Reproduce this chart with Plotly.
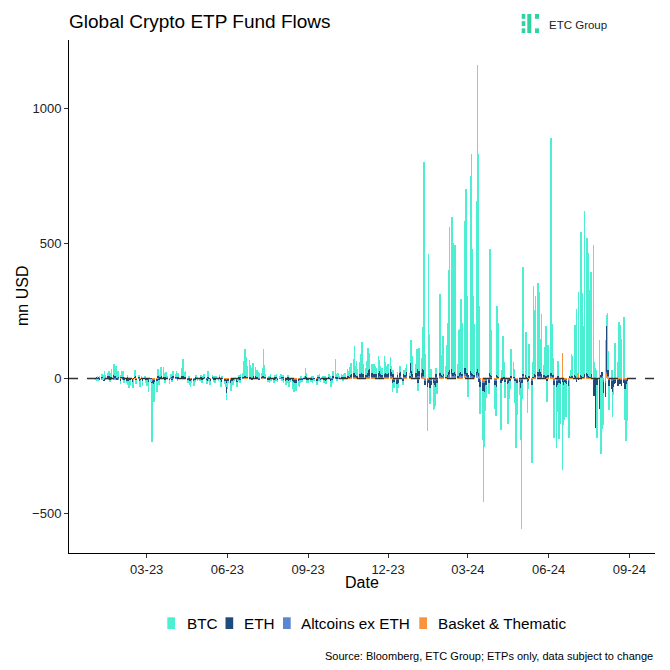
import pandas as pd
import plotly.graph_objects as go

# ---------------- data (mn USD, business days 2023-01-02 .. 2024-08-30) ----------------
categories = ["BTC", "ETH", "Altcoins ex ETH", "Basket & Thematic"]
colors = ["#4DEFD3", "#1F4A7E", "#5B86D1", "#F7953E"]

x_tick_dates = ["2023-03-01", "2023-06-01", "2023-09-01", "2023-12-01",
                "2024-03-01", "2024-06-01", "2024-09-01"]
x_tick_labels = ["03-23", "06-23", "09-23", "12-23", "03-24", "06-24", "09-24"]
y_ticks = [-500, 0, 500, 1000]

btc = [
    # 2023-01
    0, -4, 6, -3, 5, 8, -6, 10, 14, 9, 12, 18, -8, 15, 22, 39, 28, 34, 12, 20, -10, 8,
    # 2023-02
    15, 22, -12, -8, 10, -15, -22, -18, -25, -10, 12, 20, -14, 8, -20, -12, 6, -16, 5, -10,
    # 2023-03
    -20, -15, -35, -10, -218, -30, -65, -47, -40, 25, -20, 10, 33, 28, 15, -12, 20, 8, -15, 5, 12, -8, 18,
    # 2023-04
    12, 20, -8, 15, 0, 30, 58, 25, 18, 22, -10, 8, -15, -20, -12, -18, -8, 10, 6, -5,
    # 2023-05
    -6, 8, -10, 5, 12, -8, -12, 20, -5, -15, 10, -8, 6, -10, 4, -6, 8, -12, -20, 6, -10, -15, -25,
    # 2023-06
    -20, -8, -30, -12, -15, -10, -5, -18, -6, 8, -10, 12, 15, 55, 95, 70, 40, 60, 45, 35, 30, 50,
    # 2023-07
    33, 10, 25, 18, 20, 15, 30, 92, 40, 12, -8, 6, -10, 12, -6, -12, 8, -5, 10, -8, 6,
    # 2023-08
    10, -6, 8, -10, -16, -12, 8, -20, -8, -15, -25, -34, -28, -30, -18, -20, -10, 5, -8, 6, 27, 15, -10,
    # 2023-09
    -12, -8, 6, -10, 5, -6, -15, 8, -5, 10, -8, 6, -10, 4, -12, -8, 12, 6, -20, -10, 18,
    # 2023-10
    60, 10, -8, 15, 6, 12, 8, -6, 10, 15, 25, 20, 12, 30, 40, 55, 95, 35, 50, 25, 45, 70,
    # 2023-11
    105, 50, 38, 25, 42, 80, 32, 60, 30, 15, 38, 20, 25, 62, 33, 20, 12, 25, 68, 33, 15, 30,
    # 2023-12
    35, 45, 25, -34, 15, -25, -30, 10, -20, 20, 25, -15, 15, 10, 20, 28, 0, 10, 85, 55, 15,
    # 2024-01
    0, 35, 75, -30, 85, 55, 38, 145, 771, 92, -163, 447, 165, -60, 35, -100, -90, -70, 25, -40, 293, 96, 72,
    # 2024-02
    85, 140, 38, 112, 185, 376, 530, 561, 479, 425, 463, 235, 46, 158, 160, 265, 190, 545, 458, 665, 285,
    # 2024-03
    -67, 723, 797, 460, 290, 190, 634, 1126, 811, 248, -101, -180, -396, -204, -90, -50, -40, 462, 290, 170, 0,
    # 2024-04
    -90, -110, 255, 172, 198, -171, 30, 148, 55, -60, -100, -147, -60, -30, 100, 55, 30, -80, -229, -120, -50, -190,
    # 2024-05
    -510, -60, 395, 160, 35, -114, -30, 118, -290, 55, 325, 238, 292, 330, 268, 55, 124, 220, 35, 100, 185, -80, 112,
    # 2024-06
    345, 852, 180, 62, -199, -226, -100, 55, -208, -150, -325, -150, -139, -114, -120, -193, -162, 25, 82, 72,
    # 2024-07
    185, 105, 258, 18, 300, 528, 308, 145, 185, 604, 500, 447, 318, 145, 380, 470, 60, 40, 30, -199, 143, -80, -279,
    # 2024-08
    -187, -120, 143, 40, 205, 72, -90, 30, -92, -28, 77, 131, 60, 210, 105, 198, 145, 228, -114, -180, -80, -150,
]

eth = [
    0, 2, -3, 4, -2, 5, 3, -4, 6, 2, 4, 8, -3, 5, 7, 10, 6, 8, -2, 4, -5, 3,
    6, 4, -3, -5, 2, -6, -8, -4, -7, -2, 3, 5, -3, 2, -6, -4, 2, -5, 1, -3,
    -4, -3, -8, -2, -10, -12, -15, -10, -6, 5, -3, 2, 6, 8, 4, -2, 3, 2, -4, 1, 3, -2, 4,
    3, 5, -2, 4, 0, 6, 10, 5, 3, 4, -3, 2, -5, -8, -4, -6, -3, 2, 1, -2,
    -2, 2, -3, 1, 3, -2, -4, 5, -2, -5, 2, -3, 1, -4, 1, -2, 2, -4, -8, 1, -6, -10, -46,
    -12, -5, -10, -4, -6, -3, -2, -8, -3, 2, -4, 3, 2, 5, 8, 6, 4, 5, 3, 2, -3, 4,
    6, 2, 4, 3, -2, 3, 5, 10, 6, 2, -3, 2, -4, 3, -2, -4, 2, -2, 3, -3, 2,
    3, -2, 2, -3, -5, -4, 2, -6, -3, -5, -8, -10, -12, -9, -6, -7, -4, 2, -3, 2, 6, 4, -3,
    -4, -3, 2, -4, 2, -2, -6, 3, -2, 4, -3, 2, -4, 1, -5, -3, 4, 2, -6, -4, 5,
    8, 3, -2, 4, 2, 3, 2, -2, 3, 4, 6, 5, 3, 8, 10, 12, 18, 8, 10, 6, 9, 14,
    20, 12, 10, 8, 14, 22, 30, 25, 15, 20, 12, 18, 10, 15, 25, 18, 10, 8, 12, 20, 15, 10,
    12, 25, 15, -12, 10, -8, -15, 8, -10, 12, 15, -6, 10, 8, 12, 15, 0, 6, 45, 20, 10,
    0, 12, 25, -12, 20, 15, 25, 30, 20, -15, -20, 8, -10, -25, -15, -10, -15, -20, 10, -10, 12, 15, 8,
    5, 8, 3, 6, 10, 12, 15, 18, 10, 12, 15, 8, 4, 10, 12, 15, 8, 20, 45, 15, 10,
    5, 12, 15, 10, 8, 5, 10, 12, 8, -10, -20, -30, -40, -35, -20, -15, -10, 8, 5, 4, 0,
    -15, -20, 6, 4, 3, -12, -5, 5, 3, -8, -15, -12, -10, -5, 4, 3, 2, -6, -20, -10, -8, -25,
    -30, -10, 8, 6, 3, -8, -5, 4, -15, 3, 10, 8, 6, 12, 40, 25, 15, 10, 8, 8, 6, -5, 6,
    10, 20, 10, 6, -15, -20, -15, 4, -10, -12, -10, -15, -8, -10, -12, -15, 4, 2, 4, 6,
    6, 3, -10, 2, -5, 8, 5, 3, 6, 10, 12, 10, 6, 4, 8, 15, -60, -40, -175, -20, -107, -30, 8,
    15, -40, -50, 169, 25, 20, -20, -30, -40, -25, -15, -10, -20, -15, -10, -15, -20, -10, -30, -40, -15, -5,
]

altcoins = [
    1, 0, 2, -1, 1, 2, 1, 3, 2, 1, 2, 3, -1, 2, 1, 4, 2, 3, 1, 2, -2, 1,
    2, 1, -1, -2, 1, -2, -3, -1, -2, 0, 1, 2, -1, 1, -2, -1, 1, -2, 0, -1,
    -1, -2, -3, 0, -4, -5, -3, -2, -1, 2, -1, 1, 2, 3, 1, -1, 1, 0, -1, 1, 1, -1, 2,
    1, 2, 0, 1, 0, 2, 3, 2, 1, 1, -1, 0, -2, -3, -1, -2, -1, 1, 0, -1,
    0, 1, -1, 0, 1, -1, -2, 1, 0, -1, 1, -1, 0, -1, 0, -1, 1, -1, -2, 0, -1, -2, -3,
    -3, -1, -4, -2, -2, -1, -1, -3, -1, 1, -1, 1, 1, 2, 3, 2, 1, 2, 1, 1, -1, 2,
    2, 1, 1, 1, -1, 1, 2, 4, 2, 1, -1, 1, -1, 1, 0, -1, 1, -1, 1, -1, 1,
    1, -1, 1, -1, -2, -1, 1, -2, -1, -2, -3, -3, -4, -3, -2, -2, -1, 1, -1, 1, 2, 1, -1,
    -1, -1, 1, -1, 1, 0, -2, 1, -1, 1, -1, 1, -1, 0, -2, -1, 1, 1, -2, -1, 2,
    2, 1, 0, 1, 1, 1, 1, 0, 1, 1, 2, 2, 1, 3, 3, 4, 5, 3, 3, 2, 3, 4,
    5, 3, 3, 2, 4, 6, 8, 6, 4, 5, 3, 5, 3, 4, 6, 5, 3, 2, 3, 5, 4, 3,
    4, 6, 5, -3, 3, -2, -4, 3, -3, 4, 5, -2, 3, 3, 4, 5, 0, 2, 8, 5, 3,
    0, 4, 6, -3, 5, 4, 6, 8, 5, -4, -5, 3, -3, -6, -4, -3, -4, -5, 3, -3, 4, 5, 3,
    3, 4, 2, 3, 5, 6, 7, 8, 5, 6, 7, 4, 2, 5, 6, 7, 4, 9, 8, 10, 5,
    4, 6, 8, 5, 4, 3, 6, 10, 5, -3, -6, -8, -10, -8, -5, -4, -3, 5, 4, 3, 0,
    -4, -5, 3, 2, 2, -3, -2, 3, 2, -3, -5, -4, -3, -2, 2, 2, 1, -2, -5, -3, -2, -6,
    -8, -3, 5, 3, 2, -2, -2, 2, -4, 2, 4, 3, 3, 5, 6, 5, 4, 3, 3, 3, 2, -1, 3,
    4, 8, 5, 3, -4, -5, -4, 2, -3, -4, -3, -4, -2, -3, -4, -5, 2, 1, 2, 2,
    3, 2, -2, 1, -1, 2, 2, 1, 2, 3, 4, 3, 2, 1, 3, 4, -2, -1, -3, -1, -2, -1, 2,
    4, -6, -8, 5, 6, 5, -3, -4, -5, -3, -2, -2, -3, -2, -1, -2, -3, -2, -4, -5, -2, -1,
]

basket = [
    -3, -5, 2, -4, 3, -6, 4, -2, 5, -3, 2, -4, 3, -5, 4, -2, 3, -4, 2, -3, -2, 2,
    3, -2, 2, -3, 1, -2, -4, -2, -3, 1, 2, 3, -2, 1, -3, -2, 1, -3, 1, -2,
    -2, -1, -3, -1, -4, -5, -3, -2, -2, 2, -1, 1, 2, 3, 1, -1, 1, 1, -2, 1, 1, -1, 2,
    1, 2, -1, 1, 0, 2, 3, 1, 1, 1, -1, 1, -2, -2, -1, -2, -1, 1, 0, -1,
    -1, 1, -1, 1, 1, -1, -2, 1, -1, -2, 1, -1, 1, -2, 1, -1, 1, -2, -3, 1, -2, -3, -4,
    -3, -2, -3, -2, -2, -1, -1, -2, -1, 1, -1, 1, 1, 2, 3, 2, 2, 2, 1, 1, -1, 2,
    2, 1, 2, 1, -1, 1, 2, 3, 2, 1, -1, 1, -1, 1, -1, -1, 1, -1, 1, -1, 1,
    1, -1, 1, -1, -2, -1, 1, -2, -1, -2, -2, -3, -3, -3, -2, -2, -1, 1, -1, 1, 2, 1, -1,
    -1, -1, 1, -1, 1, -1, -2, 1, -1, 1, -1, 1, -1, 1, -2, -1, 1, 1, -2, -1, 2,
    2, 1, -1, 1, 1, 1, 1, -1, 1, 1, 2, 2, 1, 2, 3, 3, 4, 2, 3, 2, 3, 3,
    4, 3, 2, 2, 3, 4, 5, 4, 3, 4, 2, 3, 2, 3, 4, 3, 2, 2, 2, 3, 3, 2,
    3, 4, 3, -2, 2, -2, -3, 2, -2, 3, 3, -1, 2, 2, 3, 4, 0, 2, 6, 4, 2,
    0, 3, 5, -3, 4, 3, 5, 8, 6, -4, -5, 3, -3, -5, -4, -3, -4, -5, 2, -3, 4, 5, 3,
    3, 4, 2, 3, 5, 6, 8, 10, 6, 7, 8, 5, 2, 5, 6, 7, 4, 10, 9, 12, 6,
    5, 8, 10, 6, 5, 4, 8, 12, 6, 20, -6, -8, -10, -8, -5, -4, -3, 6, 5, 4, 0,
    -4, -5, 3, 2, 2, -3, -2, 3, 2, -3, -5, -4, -3, -2, 2, 2, 1, -2, -5, -3, -2, -6,
    -8, -3, 5, 3, 2, -2, -2, 2, -4, 2, 5, 4, 4, 6, 8, 6, 5, 4, 3, 4, 3, -2, 4,
    5, 10, 6, 4, -4, -5, -4, 2, -3, -4, 95, -4, -3, -4, -5, -6, 3, 2, 3, 3,
    4, 3, -2, -1, 22, 3, 3, 2, 3, 4, 5, 4, 3, 2, 4, 5, -3, -2, -4, -2, -3, -2, 3,
    5, -8, -10, 20, 8, 6, -4, -5, -6, -4, -3, -3, -4, -3, -2, -3, -4, -3, -5, -6, -3, -2,
]

title_text = "Global Crypto ETP Fund Flows"
x_title = "Date"
y_title = "mn USD"
caption = "Source: Bloomberg, ETC Group; ETPs only, data subject to change"
logo_text = "ETC Group"

# ---------------- figure ----------------
dates = pd.bdate_range("2023-01-02", "2024-08-30")
series = [btc, eth, altcoins, basket]
n = min(len(dates), *[len(s) for s in series])

FONT = "Liberation Sans, Arial, sans-serif"
W, H = 670, 670
L, R, T, B = 69, 15, 40, 117
pw, ph = W - L - R, H - T - B


def px(xp):
    return (xp - L) / pw


def py(yp):
    return (H - B - yp) / ph


fig = go.Figure()
day_ms = 86400000
# stacking: first trace nearest zero, so BTC is added last (outermost), as in the reference
for idx in [3, 2, 1, 0]:
    fig.add_trace(go.Bar(
        x=dates[:n], y=series[idx][:n], name=categories[idx],
        marker=dict(color=colors[idx], line=dict(width=0)),
        width=0.75 * day_ms, showlegend=False,
    ))

fig.add_shape(type="line", xref="paper", yref="y", x0=0, x1=1, y0=0, y1=0,
              line=dict(color="#333333", width=1.4, dash="dash"), layer="above")

# logo icon (pixel blocks)
logo_green = "#2ED3A1"
blocks = [
    (521.7, 14.0, 525.3, 18.8), (521.7, 21.2, 525.3, 26.0), (521.7, 28.4, 525.3, 33.0),
    (527.3, 14.0, 531.3, 33.0),
    (535.0, 14.0, 539.0, 18.8), (535.0, 28.4, 539.0, 33.0),
]
for x0, y0, x1, y1 in blocks:
    fig.add_shape(type="rect", xref="paper", yref="paper",
                  x0=px(x0), x1=px(x1), y0=py(y1), y1=py(y0),
                  fillcolor=logo_green, line=dict(width=0))

annotations = [
    dict(text=logo_text, x=px(546.5), y=py(24.5), xref="paper", yref="paper",
         xanchor="left", yanchor="middle", showarrow=False,
         font=dict(family=FONT, size=11.5, color="#222222")),
    dict(text=x_title, x=px(362), y=py(583), xref="paper", yref="paper",
         xanchor="center", yanchor="middle", showarrow=False,
         font=dict(family=FONT, size=16, color="#000000")),
    dict(text=y_title, x=px(22), y=py(296), xref="paper", yref="paper",
         xanchor="center", yanchor="middle", showarrow=False, textangle=-90,
         font=dict(family=FONT, size=16, color="#000000")),
    dict(text=caption, x=px(655), y=py(656), xref="paper", yref="paper",
         xanchor="right", yanchor="middle", showarrow=False,
         font=dict(family=FONT, size=11, color="#000000")),
]

# legend drawn as key rectangles + text, laid out like the reference
legend_key_x = [167.3, 225.5, 283.0, 419.3]
legend_text_x = [185.0, 241.7, 299.3, 436.0]
for i, cat in enumerate(categories):
    fig.add_shape(type="rect", xref="paper", yref="paper",
                  x0=px(legend_key_x[i]), x1=px(legend_key_x[i] + 7.7),
                  y0=py(629.0), y1=py(617.3),
                  fillcolor=colors[i], line=dict(width=0))
    annotations.append(dict(text=cat, x=px(legend_text_x[i]), y=py(623.3),
                            xref="paper", yref="paper", xanchor="left", yanchor="middle",
                            showarrow=False,
                            font=dict(family=FONT, size=15.3, color="#000000")))

fig.update_layout(
    width=W, height=H,
    margin=dict(l=L, r=R, t=T, b=B, autoexpand=False),
    paper_bgcolor="white", plot_bgcolor="white",
    barmode="relative", bargap=0,
    font=dict(family=FONT, color="#000000"),
    title=dict(text=title_text, x=L / W, xanchor="left", y=1 - 21 / H, yanchor="middle",
               xref="container", yref="container",
               font=dict(family=FONT, size=19, color="#000000")),
    showlegend=False,
    annotations=annotations,
    xaxis=dict(type="date", range=["2022-12-02 10:00", "2024-09-30 07:00"],
               tickvals=x_tick_dates, ticktext=x_tick_labels,
               showline=True, linecolor="#000000", linewidth=1,
               ticks="outside", ticklen=4, tickcolor="#333333", tickwidth=1,
               tickfont=dict(family=FONT, size=13, color="#222222"),
               showgrid=False, zeroline=False, fixedrange=True),
    yaxis=dict(range=[-646, 1253], tickvals=y_ticks,
               showline=True, linecolor="#000000", linewidth=1,
               ticks="outside", ticklen=4, tickcolor="#333333", tickwidth=1,
               tickfont=dict(family=FONT, size=13, color="#222222"),
               showgrid=False, zeroline=False, fixedrange=True),
)

fig.write_html("out.html", config={"displayModeBar": False},
               post_script="document.body.style.margin='0px';")
